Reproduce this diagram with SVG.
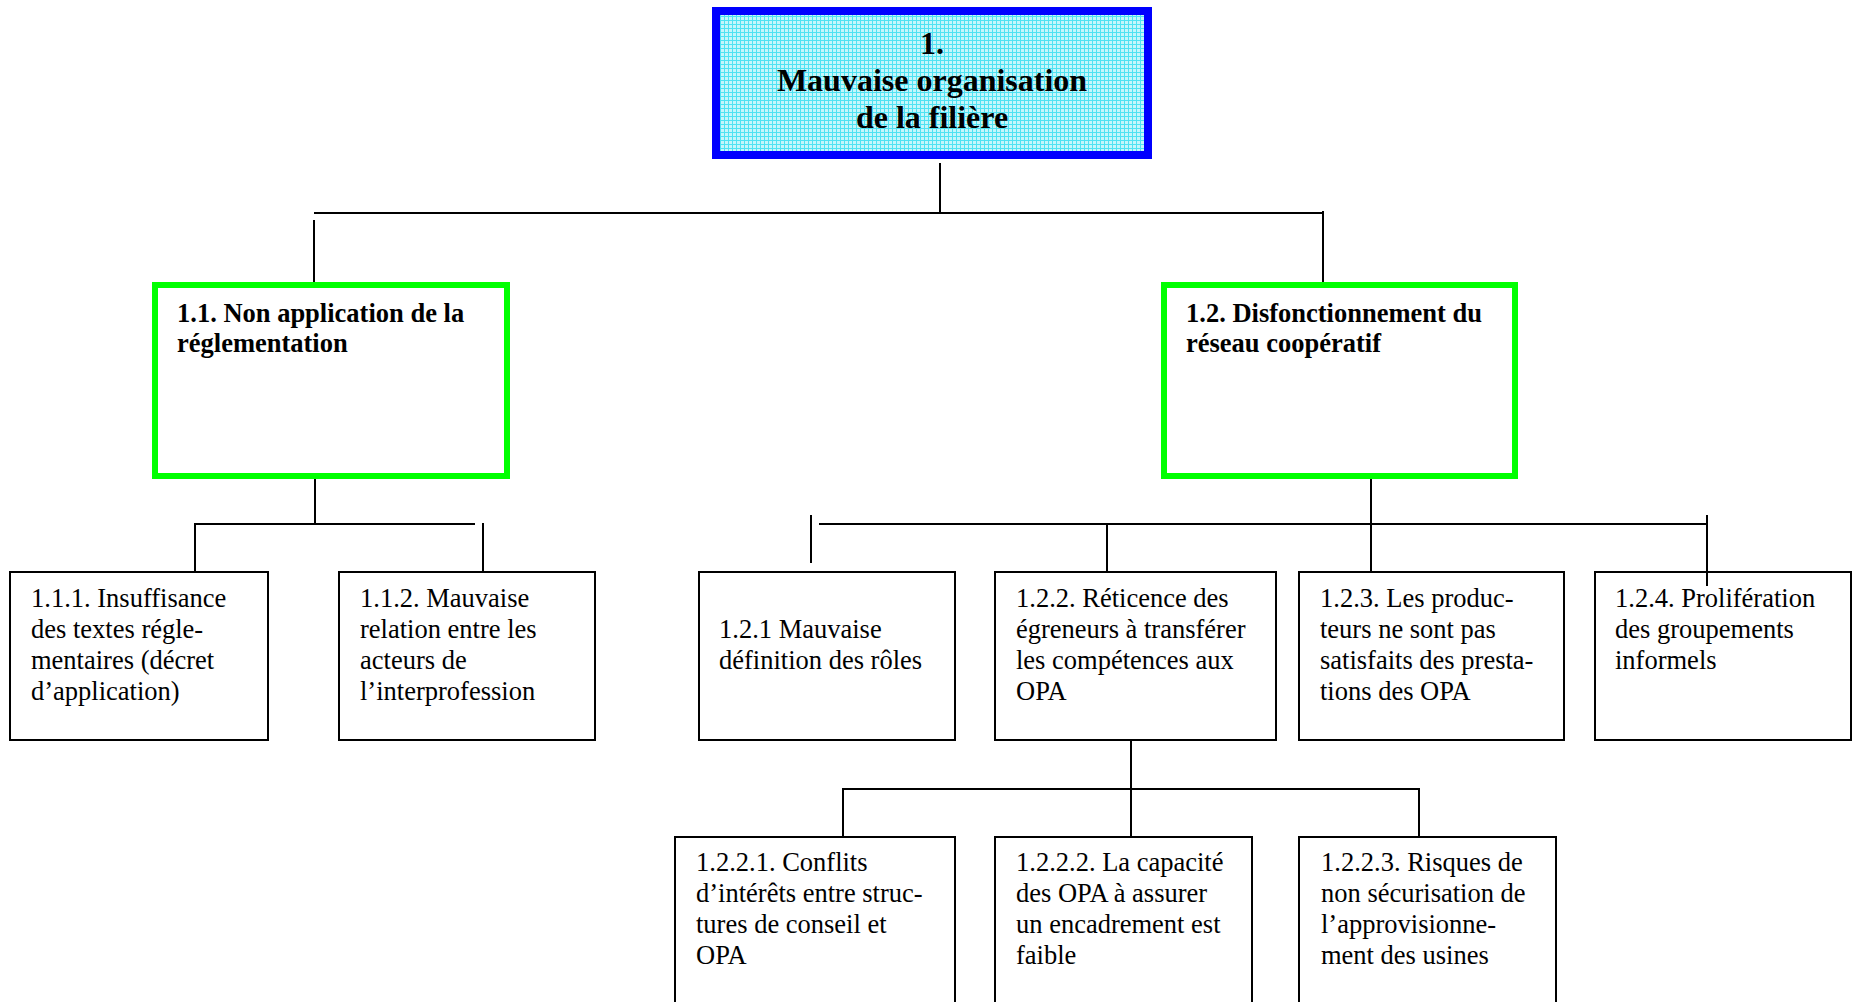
<svg xmlns="http://www.w3.org/2000/svg" width="1860" height="1002" viewBox="0 0 1860 1002">
<defs>
<pattern id="grid" x="0" y="0" width="4" height="4" patternUnits="userSpaceOnUse">
<rect width="4" height="4" fill="#c4f6fb"/>
<path d="M0 0.5H4M0.5 0V4" stroke="#4fe2f2" stroke-width="1"/>
</pattern>
</defs>
<style>
text{font-family:"Liberation Serif","Times New Roman",serif;fill:#000}
.t{font-size:32px;font-weight:bold;text-anchor:middle}
.h{font-size:26.5px;font-weight:bold}
.b{font-size:26.5px}
.box{fill:#fff;stroke:#000;stroke-width:2}
.gbox{fill:#fff;stroke:#00ff00;stroke-width:6}
.c{stroke:#000;stroke-width:2;fill:none}
</style>
<rect width="1860" height="1002" fill="#fff"/>
<g id="connectors">
<line class="c" x1="940" y1="163" x2="940" y2="213"/>
<line class="c" x1="314" y1="213" x2="1324" y2="213"/>
<line class="c" x1="314" y1="220" x2="314" y2="285"/>
<line class="c" x1="1323" y1="211" x2="1323" y2="285"/>
<line class="c" x1="315" y1="479" x2="315" y2="524"/>
<line class="c" x1="195" y1="524" x2="475" y2="524"/>
<line class="c" x1="195" y1="523" x2="195" y2="572"/>
<line class="c" x1="483" y1="523" x2="483" y2="572"/>
<line class="c" x1="1371" y1="479" x2="1371" y2="572"/>
<line class="c" x1="811" y1="515" x2="811" y2="563"/>
<line class="c" x1="819" y1="524" x2="1707" y2="524"/>
<line class="c" x1="1107" y1="524" x2="1107" y2="572"/>
<line class="c" x1="1131" y1="740" x2="1131" y2="837"/>
<line class="c" x1="843" y1="789" x2="1419" y2="789"/>
<line class="c" x1="843" y1="788" x2="843" y2="837"/>
<line class="c" x1="1419" y1="788" x2="1419" y2="837"/>
</g>
<g id="n1">
<rect x="716" y="11" width="432" height="144" fill="url(#grid)" stroke="#0000ff" stroke-width="8"/>
<text class="t" x="932" y="54">1.</text>
<text class="t" x="932" y="91">Mauvaise organisation</text>
<text class="t" x="932" y="128">de la filière</text>
</g>
<g id="n1_1">
<rect class="gbox" x="155" y="285" width="352" height="191"/>
<text class="h" x="177" y="322">1.1. Non application de la</text>
<text class="h" x="177" y="352">réglementation</text>
</g>
<g id="n1_2">
<rect class="gbox" x="1164" y="285" width="351" height="191"/>
<text class="h" x="1186" y="322">1.2. Disfonctionnement du</text>
<text class="h" x="1186" y="352">réseau coopératif</text>
</g>
<g id="n1_1_1">
<rect class="box" x="10" y="572" width="258" height="168"/>
<text class="b" x="31" y="607">1.1.1. Insuffisance</text>
<text class="b" x="31" y="638">des textes régle-</text>
<text class="b" x="31" y="669">mentaires (décret</text>
<text class="b" x="31" y="700">d’application)</text>
</g>
<g id="n1_1_2">
<rect class="box" x="339" y="572" width="256" height="168"/>
<text class="b" x="360" y="607">1.1.2. Mauvaise</text>
<text class="b" x="360" y="638">relation entre les</text>
<text class="b" x="360" y="669">acteurs de</text>
<text class="b" x="360" y="700">l’interprofession</text>
</g>
<g id="n1_2_1">
<rect class="box" x="699" y="572" width="256" height="168"/>
<text class="b" x="719" y="638">1.2.1 Mauvaise</text>
<text class="b" x="719" y="669">définition des rôles</text>
</g>
<g id="n1_2_2">
<rect class="box" x="995" y="572" width="281" height="168"/>
<text class="b" x="1016" y="607">1.2.2. Réticence des</text>
<text class="b" x="1016" y="638">égreneurs à transférer</text>
<text class="b" x="1016" y="669">les compétences aux</text>
<text class="b" x="1016" y="700">OPA</text>
</g>
<g id="n1_2_3">
<rect class="box" x="1299" y="572" width="265" height="168"/>
<text class="b" x="1320" y="607">1.2.3. Les produc-</text>
<text class="b" x="1320" y="638">teurs ne sont pas</text>
<text class="b" x="1320" y="669">satisfaits des presta-</text>
<text class="b" x="1320" y="700">tions des OPA</text>
</g>
<g id="n1_2_4">
<rect class="box" x="1595" y="572" width="256" height="168"/>
<text class="b" x="1615" y="607">1.2.4. Prolifération</text>
<text class="b" x="1615" y="638">des groupements</text>
<text class="b" x="1615" y="669">informels</text>
</g>
<line id="c_1_2_4_overlap" class="c" x1="1707" y1="515" x2="1707" y2="586"/>
<g id="n1_2_2_1">
<rect class="box" x="675" y="837" width="280" height="180"/>
<text class="b" x="696" y="871">1.2.2.1. Conflits</text>
<text class="b" x="696" y="902">d’intérêts entre struc-</text>
<text class="b" x="696" y="933">tures de conseil et</text>
<text class="b" x="696" y="964">OPA</text>
</g>
<g id="n1_2_2_2">
<rect class="box" x="995" y="837" width="257" height="180"/>
<text class="b" x="1016" y="871">1.2.2.2. La capacité</text>
<text class="b" x="1016" y="902">des OPA à assurer</text>
<text class="b" x="1016" y="933">un encadrement est</text>
<text class="b" x="1016" y="964">faible</text>
</g>
<g id="n1_2_2_3">
<rect class="box" x="1299" y="837" width="257" height="180"/>
<text class="b" x="1321" y="871">1.2.2.3. Risques de</text>
<text class="b" x="1321" y="902">non sécurisation de</text>
<text class="b" x="1321" y="933">l’approvisionne-</text>
<text class="b" x="1321" y="964">ment des usines</text>
</g>
</svg>
